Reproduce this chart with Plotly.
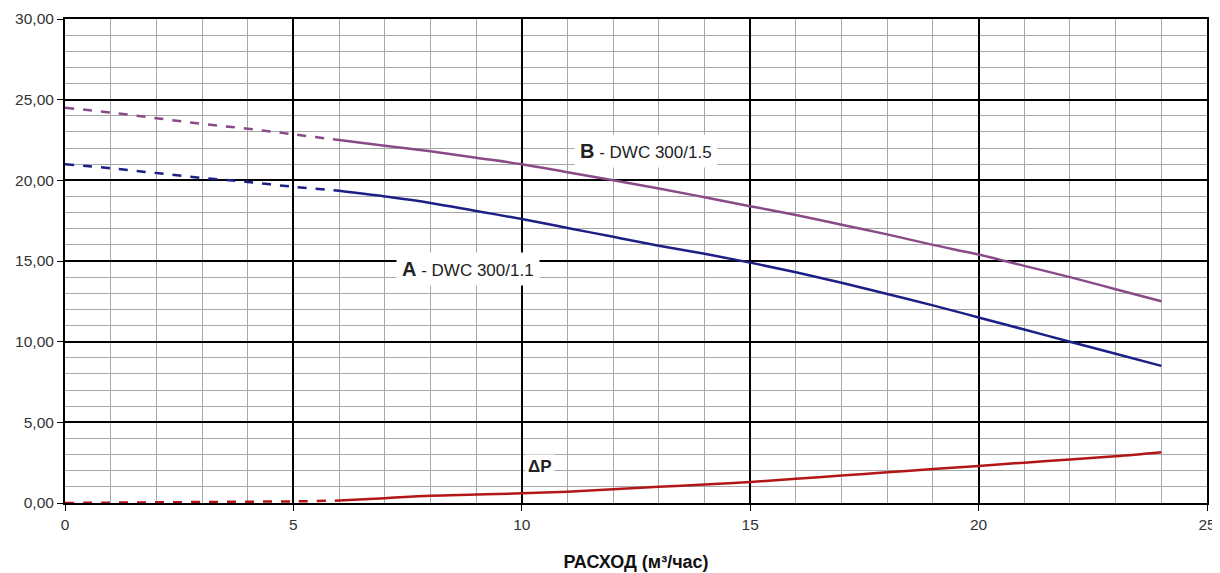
import plotly.graph_objects as go

x_dash = [0, 1, 2, 3, 4, 5, 6]
x_solid = [6, 7, 8, 9, 10, 11, 12, 13, 14, 15, 16, 17, 18, 19, 20, 21, 22, 23, 24]

b_dash = [24.5, 24.2, 23.85, 23.5, 23.2, 22.85, 22.5]
b_solid = [22.5, 22.15, 21.8, 21.4, 21.0, 20.5, 20.0, 19.5, 18.95, 18.4, 17.85, 17.25, 16.65, 16.0, 15.4, 14.7, 14.0, 13.25, 12.5]

a_dash = [21.0, 20.75, 20.45, 20.15, 19.9, 19.6, 19.35]
a_solid = [19.35, 19.0, 18.6, 18.1, 17.6, 17.05, 16.5, 15.95, 15.45, 14.9, 14.3, 13.65, 12.95, 12.25, 11.5, 10.75, 10.0, 9.25, 8.5]

dp_dash = [0.0, 0.02, 0.04, 0.06, 0.08, 0.1, 0.15]
dp_solid = [0.15, 0.3, 0.45, 0.52, 0.6, 0.7, 0.85, 1.0, 1.15, 1.3, 1.5, 1.7, 1.9, 2.1, 2.3, 2.5, 2.7, 2.9, 3.15]

x_ticks = [0, 5, 10, 15, 20, 25]
y_ticks = [0, 5, 10, 15, 20, 25, 30]

col_b = "#8a4a88"
col_a = "#1c1f86"
col_dp = "#b31616"

FONT = "Liberation Sans, Arial"

fig = go.Figure()
for xs, ys, col, dash in [
    (x_dash, b_dash, col_b, "dash"), (x_solid, b_solid, col_b, "solid"),
    (x_dash, a_dash, col_a, "dash"), (x_solid, a_solid, col_a, "solid"),
    (x_dash, dp_dash, col_dp, "dash"), (x_solid, dp_solid, col_dp, "solid"),
]:
    fig.add_trace(go.Scatter(x=xs, y=ys, mode="lines", line=dict(color=col, width=2.5, dash=dash, shape="spline"), showlegend=False))

fig.add_annotation(x=12.72, y=21.84, text="<b><span style='font-size:20px'>B</span></b> - DWC 300/1.5", showarrow=False,
                   bgcolor="white", borderpad=5, font=dict(family=FONT, size=17, color="#222"))
fig.add_annotation(x=8.82, y=14.5, text="<b><span style='font-size:20px'>A</span></b> - DWC 300/1.1", showarrow=False,
                   bgcolor="white", borderpad=5, font=dict(family=FONT, size=17, color="#222"))
fig.add_annotation(x=10.4, y=2.29, text="<b>ΔP</b>", showarrow=False, bgcolor="white", borderpad=2,
                   font=dict(family=FONT, size=17, color="#222"))

axis_common = dict(showline=True, linecolor="black", linewidth=2, mirror=True, automargin=False,
                   gridcolor="black", gridwidth=1.5, ticks="outside", ticklen=6, tickcolor="black",
                   zeroline=False, tickfont=dict(family=FONT, size=15.5, color="#333"))

fig.update_xaxes(range=[0, 25], tickvals=x_ticks, ticktext=[str(v) for v in x_ticks],
                 minor=dict(dtick=1, tick0=0, showgrid=True, gridcolor="#a8a8a8", gridwidth=1),
                 title=dict(text="<b>РАСХОД (м³/час)</b>", font=dict(family=FONT, size=18, color="#111"), standoff=24),
                 **axis_common)
fig.update_yaxes(range=[0, 30], tickvals=y_ticks, ticktext=[f"{v},00" for v in y_ticks],
                 minor=dict(dtick=1, tick0=0, showgrid=True, gridcolor="#a8a8a8", gridwidth=1),
                 **axis_common)

fig.update_layout(width=1212, height=565, margin=dict(l=57, r=13, t=11, b=70),
                  plot_bgcolor="white", paper_bgcolor="white")
fig.write_html("out.html")
